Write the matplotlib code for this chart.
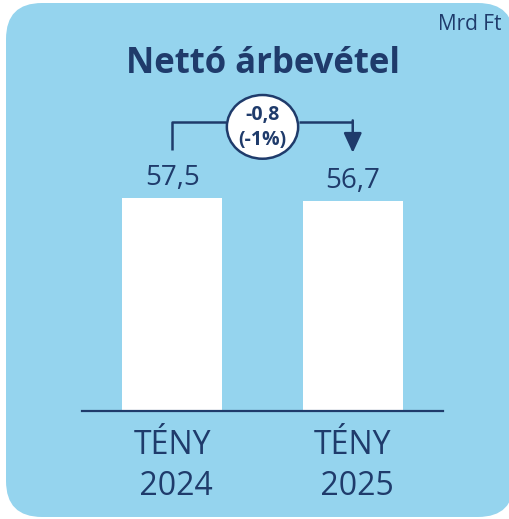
import matplotlib
matplotlib.use("Agg")
import matplotlib.pyplot as plt
from matplotlib.patches import FancyBboxPatch, Ellipse

# ---- data ----
categories = ["TÉNY\n 2024", "TÉNY\n 2025"]
values = [57.5, 56.7]
value_labels = ["57,5", "56,7"]
delta_label = "-0,8\n(-1%)"
title = "Nettó árbevétel"
unit = "Mrd Ft"

NAVY = "#1F3B6B"
BG = "#95D4EE"
FONT = "Open Sans"

W, H = 509, 519
fig = plt.figure(figsize=(W / 100, H / 100), dpi=100)
fig.patch.set_facecolor("white")

# rounded background panel (inches)
bg = FancyBboxPatch((0.06, 0.02), 5.08, 5.14,
                    boxstyle="round,pad=0,rounding_size=0.36",
                    transform=fig.dpi_scale_trans, facecolor=BG,
                    edgecolor="none", zorder=-10)
fig.patches.append(bg)

# axes: baseline at pixel y=411, x from 82 to 443
ax = fig.add_axes([82 / W, (H - 411) / H, (443 - 82) / W, 333.4 / H])
ax.set_zorder(1)
ax.set_facecolor("none")
ax.set_xlim(-0.5, 1.5)
ax.set_ylim(0, 90)

x = list(range(len(values)))
ax.bar(x, values, width=0.554, color="white", zorder=2)

for s in ["top", "right", "left"]:
    ax.spines[s].set_visible(False)
ax.spines["bottom"].set_color(NAVY)
ax.spines["bottom"].set_linewidth(1.6)
ax.set_yticks([])
ax.set_xticks(x)
ax.set_xticklabels(categories, fontsize=23, color=NAVY, family=FONT,
                   linespacing=1.33)
ax.tick_params(axis="x", length=0, pad=13)

# value labels
for xi, v, lab in zip(x, values, value_labels):
    ax.text(xi, v + 5.3, lab, ha="center", va="center", fontsize=20,
            color=NAVY, family=FONT)

# connector with delta bubble
top = max(values) + 20.5
ax.plot([x[0], x[0], 0.3], [values[0] + 13, top, top], color=NAVY,
        lw=1.8, clip_on=False, zorder=3, solid_capstyle="butt")
ax.plot([0.7, x[1]], [top, top], color=NAVY, lw=1.8, clip_on=False,
        zorder=3, solid_capstyle="butt")
ax.annotate("", xy=(x[1], values[1] + 13), xytext=(x[1], top + 0.45),
            arrowprops=dict(arrowstyle="-|>,head_length=1.2,head_width=0.55",
                            color=NAVY, lw=1.8, shrinkA=0, shrinkB=0),
            annotation_clip=False, zorder=3)
mid = (x[0] + x[1]) / 2
ell = Ellipse((mid, top - 1.3), 0.395, 17.2, facecolor="white",
              edgecolor=NAVY, lw=1.8, zorder=4, clip_on=False)
ax.add_patch(ell)
ax.text(mid, top - 1.4, delta_label, ha="center", va="center", fontsize=14,
        fontweight="bold", color=NAVY, family=FONT, linespacing=1.35,
        zorder=5)

# title and unit
fig.text(263 / W, (H - 73) / H, title, ha="center", va="baseline",
         fontsize=25, fontweight="bold", color=NAVY, family=FONT)
fig.text(501 / W, (H - 30) / H, unit, ha="right", va="baseline",
         fontsize=15, color=NAVY, family=FONT)

fig.savefig("out.png", dpi=100, facecolor=fig.get_facecolor())
